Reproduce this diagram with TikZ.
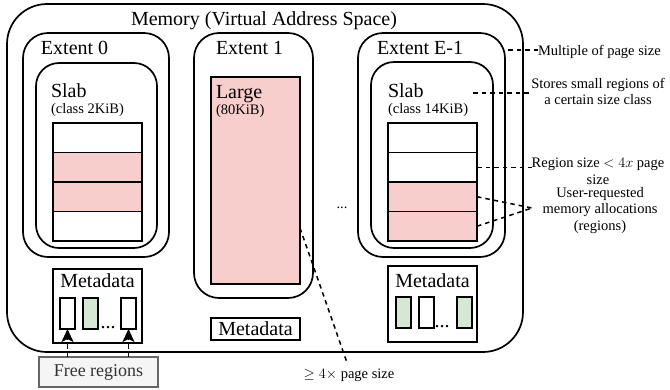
\documentclass[tikz,border=0pt]{standalone}
\usepackage{amsmath,amssymb}
\usepackage{fontspec}
\setmainfont{Liberation Serif}
\usetikzlibrary{arrows.meta}

\definecolor{pinkfill}{HTML}{F8CECC}
\definecolor{greenfill}{HTML}{D5E8D4}
\definecolor{grayfill}{HTML}{F5F5F5}
\definecolor{graydraw}{HTML}{666666}
\definecolor{graytext}{HTML}{333333}

\begin{document}
\begin{tikzpicture}[x=1pt,y=-1pt,
        every node/.style={inner sep=0pt, outer sep=0pt},
        ebox/.style={draw, line width=1.7pt, anchor=north west},%boites simples
        rbox/.style={ebox, rounded corners=#1},%boites arrondies
        bigtext/.style={font=\fontsize{20}{24}\selectfont},
        smalltext/.style={font=\fontsize{14.5}{16.5}\selectfont},
        cellbox/.style={ebox, minimum width=89pt, minimum height=29.5pt},
        slotbox/.style={ebox, line width=1.5pt, minimum width=15pt, minimum height=31pt},
        noteline/.style={line width=1.5pt, dash pattern=on 4.5pt off 4pt}]
    \useasboundingbox (0,0) rectangle (670,389);

    % memoire
    \node[rbox=40pt, minimum width=516pt, minimum height=348pt] (mem) at (7,4) {};
    \node[bigtext, anchor=base] (memlab) at (264,25) {Memory (Virtual Address Space)};

    % extents
    \node[rbox=25pt, minimum width=146pt, minimum height=224pt] (ext0) at (23,33) {};
    \node[rbox=25pt, minimum width=119pt, minimum height=265pt] (ext1) at (194,33) {};
    \node[rbox=25pt, minimum width=147pt, minimum height=224pt] (extE) at (358,33) {};
    \node[bigtext, anchor=base west] (extlab0) at (41,54) {Extent 0};
    \node[bigtext, anchor=base west] (extlab1) at (216,54) {Extent 1};
    \node[bigtext, anchor=base west] (extlabE) at (377,54) {Extent E-1};

    % slabs
    \node[rbox=23pt, minimum width=121pt, minimum height=185pt] (slab0) at (36,63) {};
    \node[rbox=23pt, minimum width=122pt, minimum height=186pt] (slabE) at (371,62) {};
    \node[bigtext, anchor=base west] (slablab0) at (51,97) {Slab};
    \node[smalltext, anchor=base west] (class0) at (51,113) {(class 2KiB)};
    \node[bigtext, anchor=base west] (slablabE) at (388,97) {Slab};
    \node[smalltext, anchor=base west] (classE) at (388,113) {(class 14KiB)};

    \node[cellbox] (c01) at (53,123) {};
    \node[cellbox, fill=pinkfill] (c02) at (53,152.5) {};
    \node[cellbox, fill=pinkfill] (c03) at (53,182) {};
    \node[cellbox] (c04) at (53,211.5) {};

    \node[cellbox] (cE1) at (388,123) {};
    \node[cellbox] (cE2) at (388,152.5) {};
    \node[cellbox, fill=pinkfill] (cE3) at (388,182) {};
    \node[cellbox, fill=pinkfill] (cE4) at (388,211.5) {};

    % grande allocation
    \node[ebox, fill=pinkfill, minimum width=89pt, minimum height=207pt] (large) at (211,77) {};
    \node[bigtext, anchor=base west] (largelab) at (216,98) {Large};
    \node[smalltext, anchor=base west] (largesize) at (216,114) {(80KiB)};

    % metadonnees
    \node[ebox, minimum width=89pt, minimum height=74pt] (meta0) at (53,269) {};
    \node[bigtext, anchor=base] (metalab0) at (meta0.north |- 0,287) {Metadata};
    \node[slotbox] (s01) at (60,298) {};
    \node[slotbox, fill=greenfill] (s02) at (83,298) {};
    \node[bigtext, anchor=base] (dots0) at (108,328) {...};
    \node[slotbox] (s03) at (121,298) {};

    \node[ebox, bigtext, minimum width=89pt, minimum height=22pt] (meta1) at (211,318) {Metadata};

    \node[ebox, minimum width=89pt, minimum height=76pt] (metaE) at (388,266) {};
    \node[bigtext, anchor=base] (metalabE) at (metaE.north |- 0,287) {Metadata};
    \node[slotbox, fill=greenfill] (sE1) at (396,297) {};
    \node[slotbox] (sE2) at (419,297) {};
    \node[bigtext, anchor=base] (dotsE) at (442,327) {...};
    \node[slotbox, fill=greenfill] (sE3) at (457,297) {};

    \node[smalltext, anchor=base] (etc) at (342,208) {...};

    % regions libres
    \node[ebox, draw=graydraw, fill=grayfill, text=graytext, line width=1.2pt,
        minimum width=119pt, minimum height=30pt, font=\fontsize{18}{22}\selectfont] (free) at (39,357) {Free regions};
    \draw[noteline, -{Stealth[length=13pt,width=12pt,inset=3pt]}] (free.north -| s01.south) -- (s01.south);
    \draw[noteline, -{Stealth[length=13pt,width=12pt,inset=3pt]}] (free.north -| s03.south) -- (s03.south);

    % annotations
    \node[smalltext, anchor=base west] (multiple) at (538,55) {Multiple of page size};
    \node[smalltext, align=center, anchor=north] (stores) at (598,78) {Stores small regions of\\a certain size class};
    \node[smalltext, align=center, anchor=north] (regsize) at (598,158) {Region size $<4x$ page\\size};
    \node[smalltext, align=center, anchor=north] (user) at (600,187) {User-requested\\memory allocations\\(regions)};
    \node[smalltext, anchor=base] (bigsize) at (349,378) {$\geq 4\times$ page size};

    \coordinate (extnote) at (508,50);
    \coordinate (slabnote) at (473,93);
    \coordinate (usernote) at (532,208);
    \coordinate (largenote) at (large.east |- 0,228);

    \draw[noteline] (extnote) -- (multiple.west |- extnote);
    \draw[noteline] (slabnote) -- (stores.west |- slabnote);
    \draw[noteline] (cE2.east) -- (regsize.west |- cE2.east);
    \draw[noteline] (cE3.east) -- (usernote);
    \draw[noteline] (cE4.east) -- (usernote);
    \draw[noteline, shorten >=8pt] (largenote) -- (bigsize.north);
\end{tikzpicture}
\end{document}
